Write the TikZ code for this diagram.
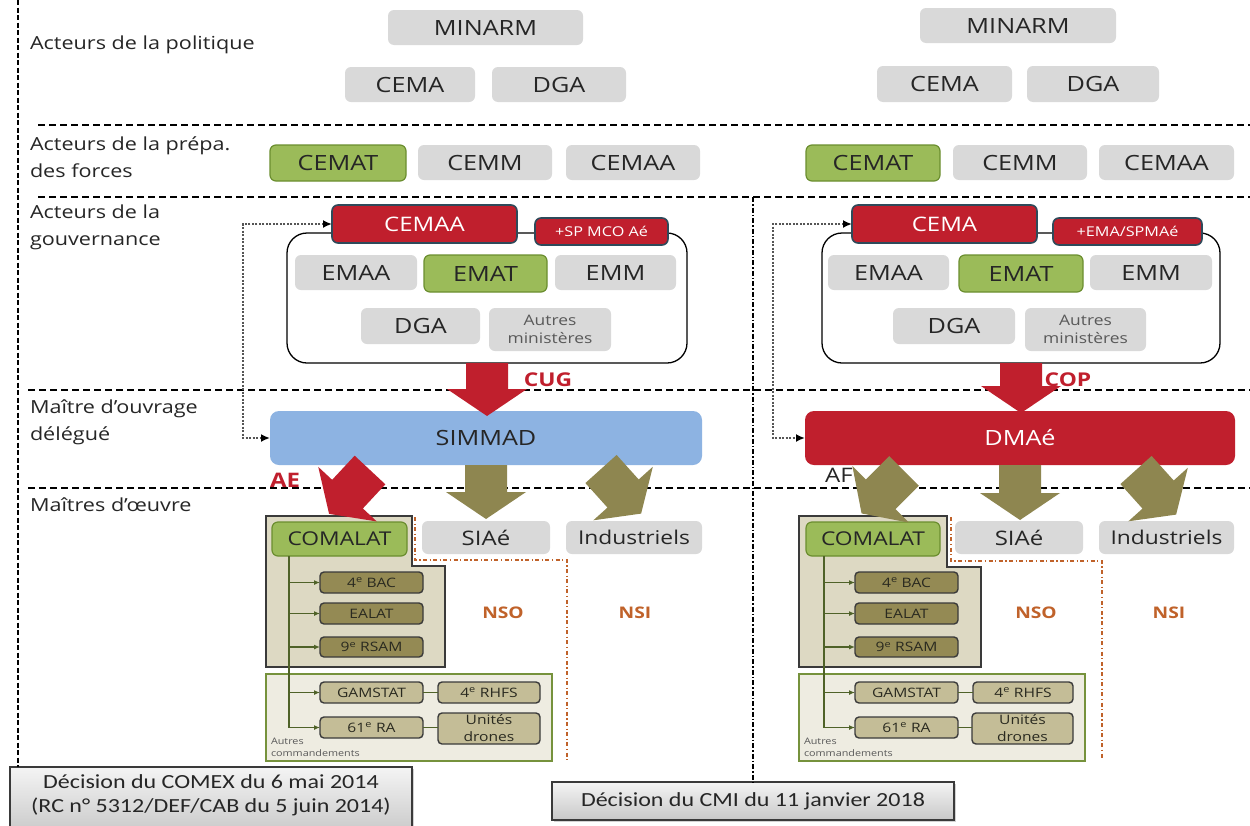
\documentclass[tikz,border=0pt]{standalone}
\usepackage{fontspec}
\setmainfont{Open Sans}[FakeStretch=1.2]
\newfontfamily\calfont{Carlito}[FakeStretch=1.2]
\usetikzlibrary{arrows.meta,shadows}

\definecolor{cred}{HTML}{C01F2D}
\definecolor{cslate}{HTML}{2E4A5A}
\definecolor{cgray}{HTML}{D9D9D9}
\definecolor{ctxt}{HTML}{262626}
\definecolor{cgtxt}{HTML}{595959}
\definecolor{cgreen}{HTML}{9BBB59}
\definecolor{cgreenD}{HTML}{6B8E2F}
\definecolor{cblue}{HTML}{8DB3E2}
\definecolor{colive}{HTML}{8E8650}
\definecolor{ctan}{HTML}{DDD9C3}
\definecolor{cdark}{HTML}{3A3A3A}
\definecolor{clight}{HTML}{EEECE1}
\definecolor{cagreen}{HTML}{76923C}
\definecolor{csub}{HTML}{948A54}
\definecolor{csubl}{HTML}{C4BD97}
\definecolor{csubtxt}{HTML}{2A2A20}
\definecolor{cline}{HTML}{4F6228}
\definecolor{corange}{HTML}{C0622A}
\definecolor{cfb}{HTML}{555555}
\definecolor{cdecT}{HTML}{F4F4F4}
\definecolor{cdecB}{HTML}{C8C8C8}

% box by corners: name, style, x1, y1, x2, y2, text
\newcommand{\bx}[7]{\node[#2, minimum width={(#5)-(#3)}, minimum height={(#6)-(#4)}] (#1) at ({((#3)+(#5))/2},{((#4)+(#6))/2}) {#7};}
% block arrow: style, tail point, angle, length
\newcommand{\blk}[4]{\fill[#1, shift={#2}, rotate=#3] (0,-21) -- ({#4-27},-21) -- ({#4-27},-40) -- (#4,0) -- ({#4-27},40) -- ({#4-27},21) -- (0,21) -- cycle;}

\tikzset{
 base/.style={inner sep=0pt, outer sep=0pt},
 gbox/.style={base, fill=cgray, rounded corners=6pt, text=ctxt, font=\fontsize{21}{25}\selectfont},
 grn/.style={gbox, fill=cgreen, draw=cgreenD, line width=1.2pt},
 small/.style={gbox, font=\fontsize{14.5}{18}\selectfont, text=cgtxt, align=center},
 rbox/.style={base, fill=cred, draw=cslate, line width=1.6pt, rounded corners=6pt, text=white, font=\fontsize{20}{24}\selectfont},
 badge/.style={rbox, font=\fontsize{13.5}{16}\selectfont},
 gov/.style={base, draw=black, line width=1.3pt, rounded corners=20pt},
 mod/.style={base, rounded corners=9pt, font=\fontsize{21}{25}\selectfont},
 lab/.style={base, anchor=west, align=left, text=ctxt, font=\fontsize{18}{27}\selectfont},
 outerbox/.style={fill=ctan, draw=cdark, line width=1.4pt},
 autres/.style={base, fill=clight, draw=cagreen, line width=1.3pt},
 sub/.style={base, fill=csub, draw=cdark, line width=1.4pt, rounded corners=4pt, text=csubtxt, font=\fontsize{13}{15}\selectfont, align=center},
 subl/.style={sub, fill=csubl},
 gline/.style={draw=cline, line width=1.3pt},
 garrow/.style={gline, -{Latex[length=6pt,width=5pt]}},
 nso/.style={base, text=corange, font=\bfseries\fontsize{16}{19}\selectfont},
 orl/.style={draw=corange, line width=1.3pt, dash pattern=on 4pt off 2.5pt on 1.2pt off 2.5pt},
 fb/.style={draw=cfb, line width=2.4pt, dash pattern=on 2.2pt off 1.3pt, {Latex[length=9pt,width=8pt,color=black]}-{Latex[length=9pt,width=8pt,color=black]}},
 redlab/.style={base, text=cred, font=\bfseries\fontsize{19}{22}\selectfont},
 tiny/.style={base, anchor=west, align=left, text=cgtxt, font=\fontsize{9}{12}\selectfont},
 hsep/.style={draw=black, line width=1.1pt, dash pattern=on 7pt off 4pt},
 lsep/.style={draw=black, line width=1.3pt, dash pattern=on 5pt off 2.5pt},
 msep/.style={draw=black, line width=1.2pt, dash pattern=on 5pt off 2pt on 1.5pt off 2pt},
 dec/.style={base, draw=cdark, line width=1.3pt, top color=cdecT, bottom color=cdecB, drop shadow={shadow xshift=2pt, shadow yshift=-2pt, opacity=0.35}},
 decfont/.style={font=\calfont\fontsize{20}{24}\selectfont, text=ctxt, align=center}
}

\begin{document}
\begin{tikzpicture}[x=1pt,y=-1pt]
\useasboundingbox (0,0) rectangle (1250,825);
\fill[white] (0,0) rectangle (1250,825);

% separators
\draw[hsep] (38,125) -- (1250,125);
\draw[hsep] (38,197) -- (1250,197);
\draw[hsep] (28,390) -- (1250,390);
\draw[hsep] (28,488) -- (1250,488);

% section labels
\node[lab] (s1) at (30,45) {Acteurs de la politique};
\node[lab] (s2) at (30,157) {Acteurs de la prépa.\\des forces};
\node[lab] (s3) at (30,227) {Acteurs de la\\gouvernance};
\node[lab] (s4) at (30,422) {Maître d’ouvrage\\délégué};
\node[lab] (s5) at (30,505) {Maîtres d’œuvre};

% politique
\bx{Lminarm}{gbox}{388}{10}{583}{45}{MINARM}
\bx{Lcemap}{gbox}{345}{67}{475}{102}{CEMA}
\bx{Ldgap}{gbox}{492}{67}{626}{102}{DGA}
\bx{Rminarm}{gbox}{920}{8}{1116}{43}{MINARM}
\bx{Rcemap}{gbox}{877}{66}{1012}{102}{CEMA}
\bx{Rdgap}{gbox}{1027}{66}{1159}{102}{DGA}

% prepa des forces
\bx{Lcemat}{grn}{270}{145}{406}{181}{CEMAT}
\bx{Lcemm}{gbox}{418}{145}{552}{180}{CEMM}
\bx{Lcemaap}{gbox}{566}{145}{700}{180}{CEMAA}
\bx{Rcemat}{grn}{806}{145}{940}{181}{CEMAT}
\bx{Rcemm}{gbox}{953}{145}{1087}{180}{CEMM}
\bx{Rcemaap}{gbox}{1099}{145}{1234}{180}{CEMAA}

% gouvernance left
\bx{Lgov}{gov}{287}{233}{687}{363}{}
\bx{Lhead}{rbox}{332}{205}{517}{243}{CEMAA}
\bx{Lbadge}{badge}{535}{218}{668}{245}{+SP MCO Aé}
\bx{Lemaa}{gbox}{295}{255}{417}{290}{EMAA}
\bx{Lemat}{grn}{424}{255}{547}{292}{EMAT}
\bx{Lemm}{gbox}{555}{255}{676}{290}{EMM}
\bx{Ldga}{gbox}{361}{308}{480}{344}{DGA}
\bx{Laut}{small}{489}{308}{611}{351}{Autres\\ministères}

% gouvernance right
\bx{Rgov}{gov}{822}{233}{1220}{363}{}
\bx{Rhead}{rbox}{852}{205}{1037}{243}{CEMA}
\bx{Rbadge}{badge}{1053}{218}{1202}{245}{+EMA/SPMAé}
\bx{Remaa}{gbox}{828}{255}{949}{290}{EMAA}
\bx{Remat}{grn}{959}{255}{1083}{292}{EMAT}
\bx{Remm}{gbox}{1090}{255}{1212}{290}{EMM}
\bx{Rdga}{gbox}{893}{308}{1015}{344}{DGA}
\bx{Raut}{small}{1025}{308}{1146}{351}{Autres\\ministères}

% maitre d'ouvrage delegue
\bx{Lsimmad}{mod, fill=cblue, text=ctxt}{270}{411}{702}{465}{SIMMAD}
\bx{Rdmae}{mod, fill=cred, text=white}{805}{411}{1235}{465}{DMAé}

% feedback connectors
\coordinate (Lfb) at (243,224);
\coordinate (Rfb) at (773,224);
\draw[fb] (Lhead.west) -- (Lfb) |- (Lsimmad.west);
\draw[fb] (Rhead.west) -- (Rfb) |- (Rdmae.west);

% lower left
\draw[orl] (415,517) -- (415,560) -- (567,560) -- (567,760);
\draw[outerbox] (266,516) -- (412,516) -- (412,566) -- (445,566) -- (445,667) -- (266,667) -- cycle;
\bx{Lautres}{autres}{266}{674}{552}{761}{}
\bx{Lcomalat}{grn, font=\fontsize{19}{23}\selectfont}{272}{522}{407}{556}{COMALAT}
\bx{Lbac}{sub}{320}{572}{423}{593}{4\textsuperscript{e} BAC}
\bx{Lealat}{sub}{320}{603}{423}{624}{EALAT}
\bx{Lrsam}{sub}{320}{637}{423}{657}{9\textsuperscript{e} RSAM}
\bx{Lgam}{subl}{320}{682}{423}{703}{GAMSTAT}
\bx{Lrhfs}{subl}{438}{682}{540}{703}{4\textsuperscript{e} RHFS}
\bx{Lra}{subl}{320}{717}{423}{738}{61\textsuperscript{e} RA}
\bx{Ldrones}{subl, font=\fontsize{13}{17}\selectfont}{438}{713}{540}{744}{Unités\\drones}
\coordinate (Lstem) at (289,556);
\draw[garrow] (Lstem) |- (Lra.west);
\foreach \n in {Lbac,Lealat,Lrsam,Lgam} \draw[garrow] (Lstem |- \n.west) -- (\n.west);
\draw[gline] (Lgam) -- (Lrhfs);
\draw[gline] (Lra.east) -- (Lra.east -| Ldrones.west);
\node[tiny] (Ltiny) at (271,747) {Autres\\commandements};
\bx{Lsiae}{gbox, font=\fontsize{20}{24}\selectfont}{422}{521}{550}{554}{SIAé}
\bx{Lind}{gbox, font=\fontsize{19}{23}\selectfont}{566}{521}{702}{554}{Industriels}
\node[nso] (Lnso) at (503,613) {NSO};
\node[nso] (Lnsi) at (635,613) {NSI};

% lower right
\draw[orl] (951,517) -- (951,561) -- (1102,561) -- (1102,760);
\draw[outerbox] (799,516) -- (947,516) -- (947,567) -- (981,567) -- (981,667) -- (799,667) -- cycle;
\bx{Rautres}{autres}{799}{674}{1085}{761}{}
\bx{Rcomalat}{grn, font=\fontsize{19}{23}\selectfont}{806}{522}{940}{556}{COMALAT}
\bx{Rbac}{sub}{855}{572}{958}{593}{4\textsuperscript{e} BAC}
\bx{Realat}{sub}{855}{603}{958}{624}{EALAT}
\bx{Rrsam}{sub}{855}{637}{958}{657}{9\textsuperscript{e} RSAM}
\bx{Rgam}{subl}{855}{682}{958}{703}{GAMSTAT}
\bx{Rrhfs}{subl}{973}{682}{1073}{703}{4\textsuperscript{e} RHFS}
\bx{Rra}{subl}{855}{717}{958}{738}{61\textsuperscript{e} RA}
\bx{Rdrones}{subl, font=\fontsize{13}{17}\selectfont}{972}{713}{1073}{744}{Unités\\drones}
\coordinate (Rstem) at (824,556);
\draw[garrow] (Rstem) |- (Rra.west);
\foreach \n in {Rbac,Realat,Rrsam,Rgam} \draw[garrow] (Rstem |- \n.west) -- (\n.west);
\draw[gline] (Rgam) -- (Rrhfs);
\draw[gline] (Rra.east) -- (Rra.east -| Rdrones.west);
\node[tiny] (Rtiny) at (804,747) {Autres\\commandements};
\bx{Rsiae}{gbox, font=\fontsize{20}{24}\selectfont}{955}{521}{1083}{554}{SIAé}
\bx{Rind}{gbox, font=\fontsize{19}{23}\selectfont}{1099}{521}{1234}{554}{Industriels}
\node[nso] (Rnso) at (1036,613) {NSO};
\node[nso] (Rnsi) at (1169,613) {NSI};

% labels of flows
\node[redlab] (Lcug) at (548,380) {CUG};
\node[redlab] (Rcop) at (1068,380) {COP};
\node[redlab, font=\bfseries\fontsize{20}{24}\selectfont] (Lae) at (285,480) {AE};
\node[base, text=ctxt, font=\fontsize{20}{24}\selectfont] (Raf) at (839,475) {AF};

% block arrows
\blk{fill=cred}{(Lgov.south)}{-90}{53}
\blk{fill=cred}{(Rgov.south)}{-90}{50}
\blk{fill=cred}{(370,470)}{-133}{60}
\blk{fill=colive}{(Lsimmad.south)}{-90}{54}
\blk{fill=colive}{(601,469)}{-48}{60}
\blk{fill=colive}{(904,471)}{-135}{60}
\blk{fill=colive}{(Rdmae.south)}{-90}{55}
\blk{fill=colive}{(1136,470)}{-48}{60}

% decisions
\draw[dec] (10,767) rectangle (412,835);
\node[base, decfont] (Lcomex) at (211,795) {Décision du COMEX du 6 mai 2014\\(RC n° 5312/DEF/CAB du 5 juin 2014)};
\bx{Rcmi}{dec, decfont}{552}{782}{954}{820}{Décision du CMI du 11 janvier 2018}

% vertical separators
\draw[lsep] (18,0) -- (18,767);
\draw[msep] (Rcmi.north |- 0,197) -- (Rcmi.north);
\end{tikzpicture}
\end{document}
